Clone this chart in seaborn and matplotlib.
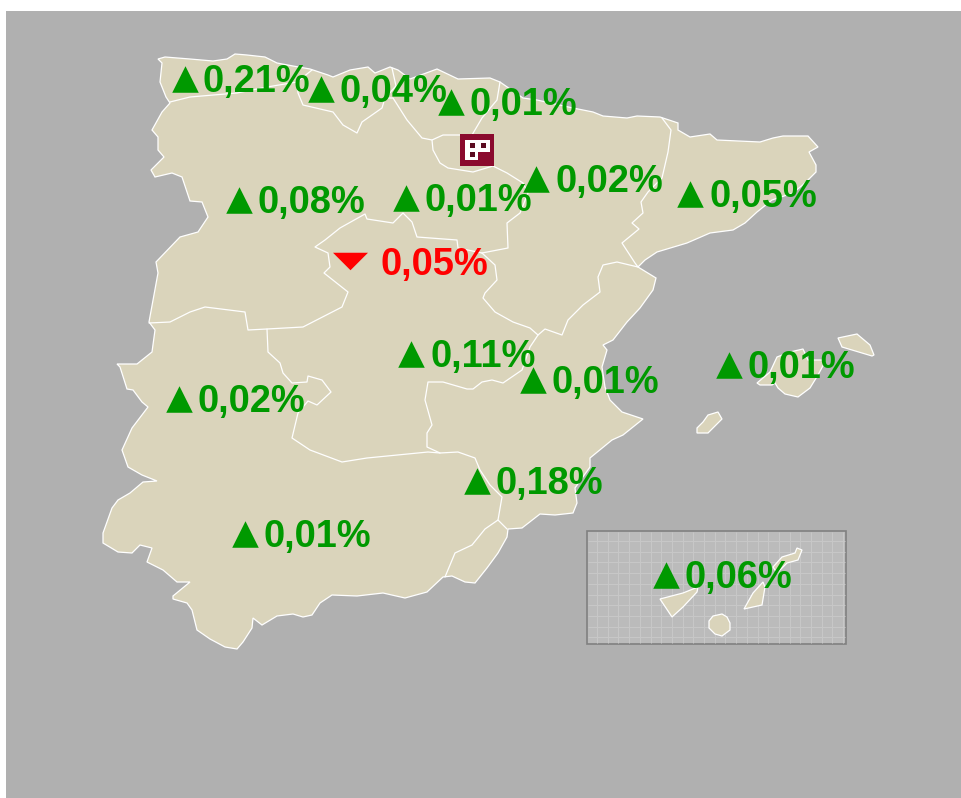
import matplotlib
matplotlib.use('Agg')
import matplotlib.pyplot as plt
import numpy as np
import pandas as pd
import seaborn as sns
from matplotlib.patches import Polygon, Rectangle

# values per region
regions = ['Asturias-Galicia', 'Cantabria', 'Pais Vasco', 'Castilla y Leon N', 'Rioja', 'Aragon',
           'Cataluna', 'Madrid', 'Castilla-La Mancha', 'Valencia', 'Baleares', 'Extremadura',
           'Murcia', 'Andalucia', 'Canarias']
labels = ['0,21%', '0,04%', '0,01%', '0,08%', '0,01%', '0,02%', '0,05%', '0,05%', '0,11%',
          '0,01%', '0,01%', '0,02%', '0,18%', '0,01%', '0,06%']
direction = ['up', 'up', 'up', 'up', 'up', 'up', 'up', 'down', 'up', 'up', 'up', 'up', 'up', 'up', 'up']

# where each label sits on the map (pixel grid of the picture)
marker_x = [185, 321, 451, 239, 406, 536, 690, 350.5, 411, 533, 729, 179, 477, 245, 666]
marker_y = [79, 89, 102, 200, 198, 179, 194, 260.5, 354, 380, 365, 399, 481, 534, 575]
text_x = [203, 340, 470, 258, 425, 556, 710, 381, 431, 552, 748, 198, 496, 264, 685]
baseline_y = [92, 102, 115, 213, 211, 192, 207, 275, 367, 393, 378, 412, 494, 547, 588]

# map outlines
mainland = [(158, 59), (165, 57), (190, 59), (213, 61), (227, 59), (235, 54), (247, 55), (265, 57), (277, 63),
            (293, 66), (310, 69), (328, 75), (333, 77), (350, 70), (368, 67), (375, 73), (390, 67), (398, 70),
            (410, 79), (437, 69), (458, 79), (490, 78), (500, 82), (523, 98), (537, 100), (573, 108), (593, 112),
            (603, 116), (627, 118), (637, 116), (660, 117), (678, 123), (678, 130), (690, 137), (710, 134),
            (717, 140), (760, 142), (773, 138), (783, 136), (808, 136), (818, 147), (809, 152), (816, 165),
            (816, 172), (805, 183), (793, 193), (772, 200), (757, 212), (745, 223), (733, 230), (710, 233),
            (687, 243), (657, 252), (645, 260), (638, 267), (656, 278), (653, 290), (640, 308), (627, 322),
            (613, 340), (603, 345), (607, 350), (602, 367), (605, 387), (610, 400), (622, 412), (643, 419),
            (633, 427), (623, 435), (612, 440), (590, 458), (590, 467), (575, 488), (577, 503), (573, 513),
            (555, 515), (540, 514), (522, 528), (508, 529), (507, 537), (498, 553), (487, 568), (475, 583),
            (465, 582), (452, 576), (443, 577), (427, 592), (405, 598), (383, 593), (357, 596), (332, 595),
            (320, 603), (312, 615), (303, 617), (293, 614), (277, 616), (262, 625), (253, 618), (252, 628),
            (243, 642), (237, 649), (225, 647), (210, 639), (197, 630), (192, 610), (187, 603), (173, 599),
            (173, 596), (190, 582), (177, 582), (163, 570), (147, 562), (152, 548), (140, 545), (132, 553),
            (118, 552), (103, 543), (103, 533), (112, 508), (118, 500), (130, 493), (143, 482), (157, 481),
            (142, 475), (128, 467), (122, 450), (132, 428), (148, 407), (142, 402), (133, 390), (127, 389),
            (120, 367), (117, 364), (137, 364), (152, 352), (155, 330), (149, 322), (158, 273), (156, 262),
            (180, 237), (198, 232), (208, 217), (202, 202), (190, 201), (182, 177), (172, 173), (155, 177),
            (151, 170), (164, 157), (158, 150), (158, 137), (152, 130), (162, 112), (170, 103), (166, 97),
            (160, 82), (162, 63)]

borders = [
    [(170, 102), (190, 97), (237, 93), (267, 87), (297, 82), (298, 93), (303, 105), (333, 112), (343, 125),
     (357, 133), (362, 122), (382, 108), (385, 98), (393, 98), (407, 120), (422, 138), (432, 140), (443, 135),
     (460, 135)],
    [(297, 82), (312, 70)],
    [(385, 98), (396, 86), (392, 68)],
    [(500, 82), (497, 100), (482, 118), (472, 135)],
    [(432, 140), (433, 150), (440, 163), (448, 168), (473, 172), (493, 166), (507, 173), (523, 183), (528, 193),
     (520, 213), (507, 223), (508, 248), (482, 253)],
    [(662, 118), (671, 130), (668, 152), (662, 178), (648, 192), (641, 202), (643, 213), (632, 223), (639, 229),
     (622, 243), (635, 263), (638, 267)],
    [(638, 267), (617, 262), (603, 265), (598, 277), (600, 292), (583, 305), (568, 320), (562, 335), (545, 329),
     (538, 335), (530, 347), (522, 370), (503, 383), (492, 380), (482, 382), (473, 389), (467, 389), (443, 382),
     (428, 382), (425, 400), (432, 425), (427, 433), (427, 447), (440, 453)],
    [(482, 253), (495, 265), (497, 280), (485, 293), (483, 298), (495, 312), (513, 322), (530, 328), (538, 335)],
    [(149, 323), (170, 322), (190, 312), (205, 307), (245, 312), (248, 330), (267, 329), (303, 327), (342, 307),
     (348, 292), (324, 273), (330, 267), (328, 253), (315, 247), (325, 240), (340, 228), (365, 214), (367, 219),
     (393, 223), (403, 213), (412, 222), (417, 237), (457, 240), (458, 248), (482, 253)],
    [(267, 329), (268, 352), (280, 363), (283, 373), (292, 383), (307, 382), (308, 376), (322, 380), (331, 392),
     (317, 405), (308, 401), (298, 413), (292, 438), (310, 450), (342, 462), (367, 458), (428, 452), (440, 453),
     (458, 452), (475, 458), (480, 470), (490, 485), (502, 497), (498, 520), (485, 529), (472, 545), (455, 553),
     (445, 577)],
    [(498, 520), (507, 529)],
]

mallorca = [(757, 383), (770, 372), (777, 357), (790, 352), (803, 349), (808, 360), (823, 360), (825, 362),
            (818, 375), (810, 388), (798, 397), (785, 394), (778, 388), (775, 383), (772, 385), (760, 385)]
menorca = [(838, 338), (857, 334), (870, 345), (874, 355), (872, 356), (842, 347)]
ibiza = [(697, 428), (703, 422), (708, 415), (718, 412), (722, 419), (708, 433), (697, 433)]
tenerife = [(660, 599), (683, 593), (698, 587), (697, 592), (683, 607), (672, 617)]
fuerteventura = [(744, 609), (753, 593), (763, 582), (765, 587), (762, 605)]
gran_canaria = [(713, 616), (722, 614), (727, 617), (730, 623), (730, 630), (722, 636), (715, 634), (709, 628), (709, 621)]
lanzarote = [(773, 567), (782, 557), (795, 553), (797, 548), (802, 550), (798, 560), (787, 563), (777, 573)]
islands = [mallorca, menorca, ibiza, tenerife, fuerteventura, gran_canaria, lanzarote]

df = pd.DataFrame({'region': regions, 'label': labels, 'direction': direction, 'x': marker_x, 'y': marker_y,
                   'text_x': text_x, 'base': baseline_y})

sns.set_theme(style='white')
plt.rcParams['font.family'] = ['Liberation Sans', 'DejaVu Sans']

land = '#dad4bb'
green = '#009900'
red = '#ff0000'
logo = '#8a0a2e'

fig = plt.figure(figsize=(9.62, 7.98), dpi=100, facecolor='white')
ax = fig.add_axes([0, 0, 1, 1])
ax.set_xlim(0, 962)
ax.set_ylim(798, 0)
ax.axis('off')

ax.add_patch(Rectangle((6, 11), 956, 787, fc='#b0b0b0', ec='none', zorder=0))

# inset box for the Canaries
ax.add_patch(Rectangle((587, 531), 259, 113, fc='#bbbbbb', ec='#808080', lw=1.2, zorder=1))
ax.vlines(np.arange(597, 846, 10.7), 532, 643, color='#c8c8c8', lw=0.7, zorder=1)
ax.hlines(np.arange(541, 644, 10.7), 588, 845, color='#c8c8c8', lw=0.7, zorder=1)

ax.add_patch(Polygon(mainland, closed=True, fc=land, ec='white', lw=0.9, zorder=2))
for line in borders:
    pts = np.array(line)
    ax.plot(pts[:, 0], pts[:, 1], color='white', lw=0.9, zorder=3)
for shape in islands:
    ax.add_patch(Polygon(shape, closed=True, fc=land, ec='white', lw=0.9, zorder=2))

# logo
ax.add_patch(Rectangle((460, 134), 34, 32, fc=logo, ec='none', zorder=4))
ax.add_patch(Rectangle((465, 140), 25, 12, fc='white', ec='none', zorder=5))
ax.add_patch(Rectangle((465, 152), 13, 8, fc='white', ec='none', zorder=5))
for dx, dy in [(470, 143), (481, 143), (470, 152)]:
    ax.add_patch(Rectangle((dx, dy), 5, 5, fc='#5a0a20', ec='none', zorder=6))

up = df[df['direction'] == 'up']
down = df[df['direction'] == 'down']
sns.scatterplot(data=up, x='x', y='y', marker='^', s=365, color=green, linewidth=0, ax=ax, zorder=7, legend=False)
sns.scatterplot(data=down, x='x', y='y', marker=[(-1, 0.5), (1, 0.5), (0, -0.5)], s=635, color=red, linewidth=0,
                ax=ax, zorder=7, legend=False)
ax.set_xlim(0, 962)
ax.set_ylim(798, 0)
ax.axis('off')

for _, row in df.iterrows():
    col = green if row['direction'] == 'up' else red
    ax.text(row['text_x'], row['base'], row['label'], color=col, fontsize=27.4, fontweight='bold',
            ha='left', va='baseline', zorder=8)

fig.savefig('out.png', dpi=100)
